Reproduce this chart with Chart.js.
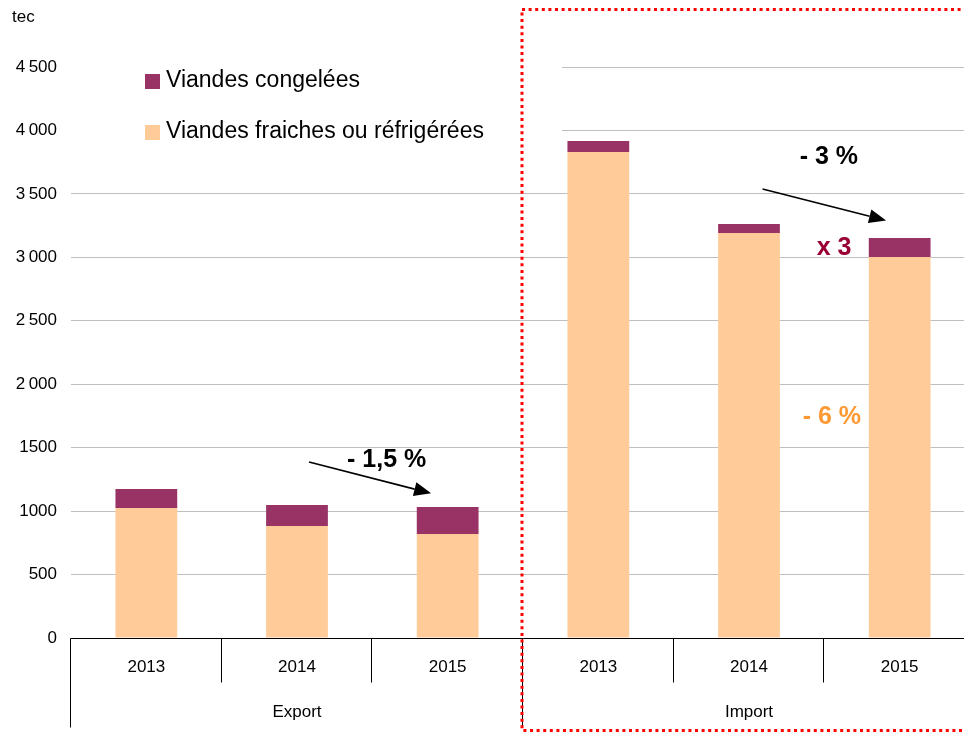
<!DOCTYPE html>
<html>
<head>
<meta charset="utf-8">
<script src="https://cdn.jsdelivr.net/npm/chart.js@4"></script>
<style>
  html, body { margin: 0; padding: 0; overflow: hidden; background: #fff; }
  canvas { display: block; }
</style>
</head>
<body>
<canvas id="chart" width="975" height="733"></canvas>
<script>
// values (tec)
const yearLabels = ['2013', '2014', '2015', '2013', '2014', '2015'];
const groupLabels = ['Export', 'Import'];
const groupSizes = [3, 3];
const freshValues = [1025, 883, 820, 3830, 3191, 3002];
const frozenValues = [150, 165, 212, 86, 71, 150];
const yTickValues = [0, 500, 1000, 1500, 2000, 2500, 3000, 3500, 4000, 4500];
const yTickLabels = ['0', '500', '1000', '1500', '2\u202F000', '2\u202F500', '3\u202F000', '3\u202F500', '4\u202F000', '4\u202F500'];

const FONT = '"Liberation Sans", Arial, sans-serif';
const FROZEN = '#993366';
const FRESH = '#FFCC99';

// annotations, in category index / value units
const arrows = [
    { from: [1.08, 1387], to: [1.89, 1140] },
    { from: [4.09, 3538], to: [4.91, 3290] }
];
const notes = [
    { text: '- 1,5 %', at: [1.595, 1400], color: '#000' },
    { text: '- 3 %', at: [4.53, 3790], color: '#000' },
    { text: 'x 3', at: [4.565, 3073], color: '#990033' },
    { text: '- 6 %', at: [4.55, 1741], color: '#FF9933' }
];

const decorations = {
    id: 'decorations',
    beforeDatasetsDraw(chart) {
        const ctx = chart.ctx;
        // legend background hides the top grid lines
        ctx.save();
        ctx.fillStyle = '#fff';
        ctx.fillRect(71, 52, 491, 95);
        ctx.restore();
    },
    afterDatasetsDraw(chart) {
        const { ctx, chartArea: area, scales: { x, y } } = chart;
        const half = (x.getPixelForValue(1) - x.getPixelForValue(0)) / 2;
        const edge = i => Math.round(x.getPixelForValue(i) - half) - 0.5;
        const base = Math.round(y.getPixelForValue(0)) + 0.5;

        ctx.save();
        ctx.strokeStyle = '#000';
        ctx.lineWidth = 1;
        ctx.beginPath();
        ctx.moveTo(edge(0), base);
        ctx.lineTo(area.right + 5, base);
        // separators between years
        for (let i = 1; i < yearLabels.length; i++) {
            ctx.moveTo(edge(i), base);
            ctx.lineTo(edge(i), base + 44);
        }
        // separators between groups
        let start = 0;
        groupSizes.forEach(n => {
            ctx.moveTo(edge(start), base);
            ctx.lineTo(edge(start), base + 89);
            start += n;
        });
        ctx.stroke();

        ctx.fillStyle = '#000';
        ctx.textAlign = 'center';
        ctx.textBaseline = 'middle';
        ctx.font = '17px ' + FONT;
        yearLabels.forEach((lab, i) => ctx.fillText(lab, x.getPixelForValue(i), base + 29));
        start = 0;
        groupLabels.forEach((lab, g) => {
            const mid = (x.getPixelForValue(start) + x.getPixelForValue(start + groupSizes[g] - 1)) / 2;
            ctx.fillText(lab, mid, base + 74);
            start += groupSizes[g];
        });

        // unit
        ctx.textAlign = 'left';
        ctx.fillText('tec', 12, 17);

        // legend
        const legendItems = [chart.data.datasets[1], chart.data.datasets[0]];
        ctx.font = '23px ' + FONT;
        legendItems.forEach((ds, i) => {
            const top = 74 + i * 51;
            ctx.fillStyle = ds.backgroundColor;
            ctx.fillRect(145, top, 15, 15);
            ctx.fillStyle = '#000';
            ctx.fillText(ds.label, 166, top + 7);
        });

        // arrows
        ctx.strokeStyle = '#000';
        ctx.fillStyle = '#000';
        ctx.lineWidth = 1.6;
        arrows.forEach(a => {
            const x0 = x.getPixelForValue(a.from[0]), y0 = y.getPixelForValue(a.from[1]);
            const x1 = x.getPixelForValue(a.to[0]), y1 = y.getPixelForValue(a.to[1]);
            const ang = Math.atan2(y1 - y0, x1 - x0);
            const len = 17, wid = 7;
            const bx = x1 - len * Math.cos(ang), by = y1 - len * Math.sin(ang);
            ctx.beginPath();
            ctx.moveTo(x0, y0);
            ctx.lineTo(bx, by);
            ctx.stroke();
            ctx.beginPath();
            ctx.moveTo(x1, y1);
            ctx.lineTo(bx + wid * Math.sin(ang), by - wid * Math.cos(ang));
            ctx.lineTo(bx - wid * Math.sin(ang), by + wid * Math.cos(ang));
            ctx.closePath();
            ctx.fill();
        });

        // notes
        ctx.textAlign = 'center';
        ctx.font = 'bold 25px ' + FONT;
        notes.forEach(n => {
            ctx.fillStyle = n.color;
            ctx.fillText(n.text, x.getPixelForValue(n.at[0]), y.getPixelForValue(n.at[1]));
        });

        // dotted frame around imports
        ctx.strokeStyle = '#FF0000';
        ctx.lineWidth = 3;
        ctx.setLineDash([3, 3.6]);
        ctx.strokeRect(edge(3) - 0.5, 9.5, 470, 721);
        ctx.restore();
    }
};

new Chart(document.getElementById('chart'), {
    type: 'bar',
    data: {
        labels: yearLabels,
        datasets: [
            { label: 'Viandes fraiches ou réfrigérées', data: freshValues, backgroundColor: FRESH },
            { label: 'Viandes congelées', data: frozenValues, backgroundColor: FROZEN }
        ]
    },
    options: {
        responsive: false,
        animation: false,
        layout: { padding: { top: 67, bottom: 95, left: 0, right: 0 } },
        datasets: { bar: { categoryPercentage: 1, barPercentage: 0.41 } },
        plugins: { legend: { display: false }, tooltip: { enabled: false } },
        scales: {
            x: { display: false, stacked: true },
            y: {
                stacked: true,
                min: 0,
                max: 4500,
                afterFit: s => { s.width = 71; },
                afterBuildTicks: s => { s.ticks = yTickValues.map(v => ({ value: v })); },
                border: { display: false },
                grid: { color: '#BFBFBF', drawTicks: false },
                ticks: {
                    padding: 14,
                    color: '#000',
                    font: { family: FONT, size: 17 },
                    callback: v => yTickLabels[yTickValues.indexOf(v)]
                }
            }
        }
    },
    plugins: [decorations]
});
</script>
</body>
</html>
